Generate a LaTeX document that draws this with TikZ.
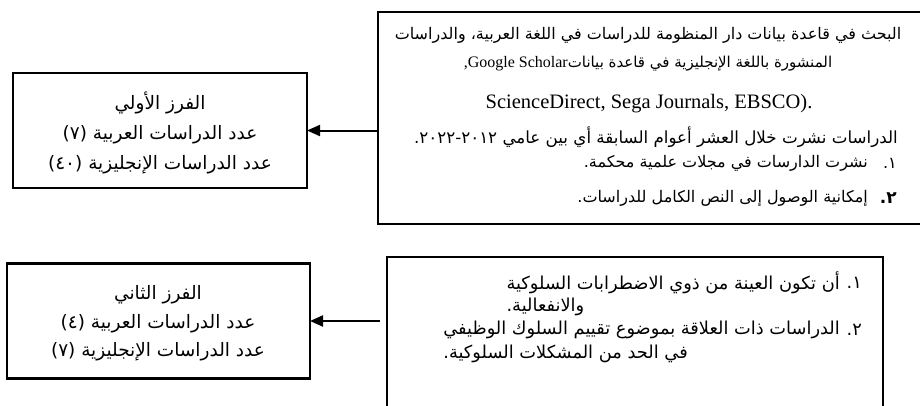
\documentclass[tikz,border=0pt]{standalone}
\usepackage{fontspec}
\setmainfont{Liberation Serif}
\newfontfamily\arabicfont[Script=Arabic]{DejaVu Sans}
\TeXXeTstate=1
\usetikzlibrary{arrows.meta}
\newcommand\artxt[1]{{\arabicfont\beginR #1\endR}}
\tikzset{
  frame/.style={draw, line width=2.2pt, inner sep=0pt, outer sep=0pt},
  txt/.style={inner sep=0pt, font=\arabicfont\fontsize{16}{18}\selectfont},
  big/.style={inner sep=0pt, font=\arabicfont\fontsize{18.5}{20}\selectfont},
  mid/.style={inner sep=0pt, font=\arabicfont\fontsize{17.8}{20}\selectfont},
  lat/.style={inner sep=0pt, font=\fontsize{20.5}{22}\selectfont},
  arr/.style={-{Triangle[length=13pt,width=11pt]}, line width=2pt},
}
\begin{document}
\begin{tikzpicture}[x=1pt,y=-1pt]
\useasboundingbox (0,0) rectangle (920,405);
\clip (0,0) rectangle (920,405);
% boxes
\node[frame, minimum width=562pt, minimum height=212pt] (top) at (659,118) {};
\node[frame, minimum width=496pt, minimum height=163pt] (bot) at (635,338.5) {};
\node[frame, minimum width=294pt, minimum height=115pt] (h1) at (160,130.5) {};
\node[frame, minimum width=303pt, minimum height=115pt] (h2) at (158.5,321) {};
% top box text
\node[txt] (t1) at (648,35) {\artxt{البحث في قاعدة بيانات دار  المنظومة للدراسات في اللغة العربية، والدراسات}};
\node[txt, font=\arabicfont\fontsize{15}{17}\selectfont] (t2) at (648,64) {\artxt{المنشورة باللغة الإنجليزية في قاعدة بيانات\beginL{\rmfamily\fontsize{16}{18}\selectfont ,Google Scholar}\endL}};
\node[lat] (t3) at (649,104) {ScienceDirect, Sega Journals, EBSCO).};
\node[txt, anchor=east, font=\arabicfont\fontsize{16.7}{18}\selectfont] (t4) at (898,137) {\artxt{الدراسات نشرت خلال العشر أعوام السابقة أي بين عامي ٢٠١٢-٢٠٢٢.}};
\node[txt, anchor=east] (n5) at (897,163) {\artxt{١.}};
\node[txt, anchor=east] (t5) at (868,163) {\artxt{نشرت الدارسات في مجلات علمية محكمة.}};
\node[txt, anchor=east, font=\arabicfont\bfseries\fontsize{17}{18}\selectfont] (n6) at (897,198) {\artxt{٢.}};
\node[txt, anchor=east] (t6) at (868,198) {\artxt{إمكانية الوصول إلى النص الكامل للدراسات.}};
% bottom box text
\node[mid, anchor=east] (n1) at (862,283) {\artxt{١.}};
\node[mid, anchor=east] (b1) at (840,283) {\artxt{أن تكون العينة من ذوي الاضطرابات السلوكية}};
\node[mid, anchor=west] (b2) at (b1.west |- 0,307) {\artxt{والانفعالية.}};
\node[mid, anchor=east] (n2) at (862,330) {\artxt{٢.}};
\node[mid, anchor=east] (b3) at (840,330) {\artxt{الدراسات ذات العلاقة بموضوع تقييم السلوك الوظيفي}};
\node[mid, anchor=west] (b4) at (b3.west |- 0,354) {\artxt{في الحد من المشكلات السلوكية.}};
% left boxes text
\node[big] (a1) at (160,103) {\artxt{الفرز الأولي}};
\node[big] (a2) at (160,135) {\artxt{عدد الدراسات العربية (٧)}};
\node[big] (a3) at (160,165) {\artxt{عدد الدراسات الإنجليزية (٤٠)}};
\node[big] (c1) at (158,295) {\artxt{الفرز الثاني}};
\node[big] (c2) at (158,324) {\artxt{عدد الدراسات العربية (٤)}};
\node[big] (c3) at (158,352) {\artxt{عدد الدراسات الإنجليزية (٧)}};
% arrows
\draw[arr] (h1.east -| top.west) -- (h1.east);
\draw[arr, shorten <=7pt] (h2.east -| bot.west) -- (h2.east);
\end{tikzpicture}
\end{document}
